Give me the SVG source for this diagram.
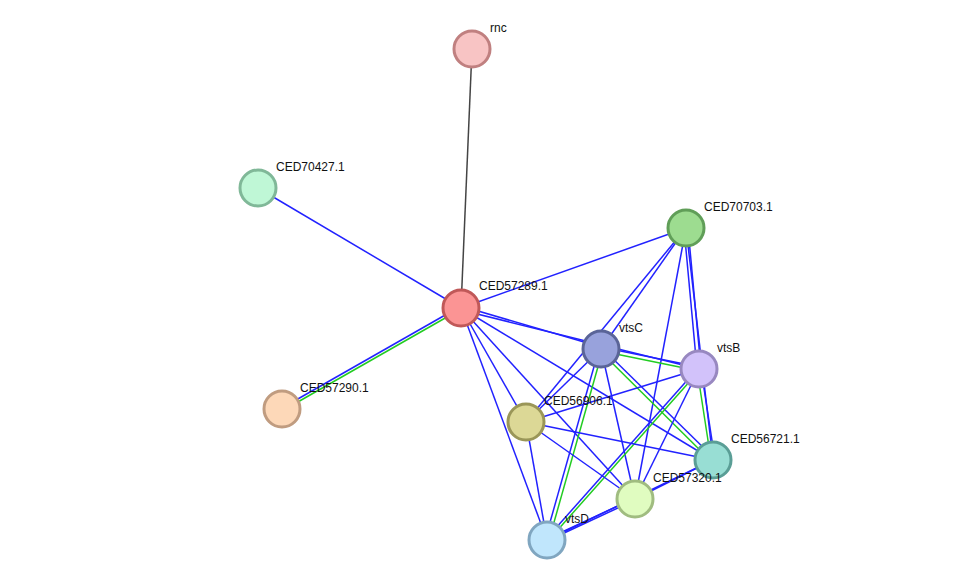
<svg xmlns="http://www.w3.org/2000/svg" width="975" height="585" viewBox="0 0 975 585">
<style>
.b{stroke:#2222ff;stroke-width:1.5;fill:none}
.g{stroke:#22cc22;stroke-width:1.5;fill:none}
.k{stroke:#444;stroke-width:1.5}
circle{stroke-width:3}
text{font-family:"Liberation Sans",Arial,sans-serif;font-size:12px;fill:#111}
</style>
<rect width="975" height="585" fill="#fff"/>
<g id="connectors">
<line class="k" x1="472" y1="49" x2="461" y2="308"/>
<line class="b" x1="258" y1="188" x2="461" y2="308"/>
<line class="b" x1="282" y1="408" x2="461" y2="306"/>
<line class="g" x1="282" y1="411" x2="461" y2="309"/>
<line class="b" x1="461" y1="308" x2="686" y2="228"/>
<line class="b" x1="461" y1="306" x2="601" y2="347"/>
<line class="b" x1="461" y1="310" x2="699" y2="369"/>
<line class="b" x1="461" y1="308" x2="713" y2="460"/>
<line class="b" x1="461" y1="308" x2="635" y2="499"/>
<line class="b" x1="461" y1="308" x2="547" y2="540"/>
<line class="b" x1="461" y1="308" x2="526" y2="422"/>
<line class="b" x1="686" y1="228" x2="601" y2="349"/>
<line class="b" x1="686" y1="228" x2="526" y2="422"/>
<line class="b" x1="684" y1="228" x2="697" y2="369"/>
<line class="b" x1="688" y1="228" x2="701" y2="369"/>
<line class="b" x1="686" y1="228" x2="713" y2="460"/>
<line class="b" x1="686" y1="228" x2="635" y2="499"/>
<line class="b" x1="601" y1="347" x2="699" y2="367"/>
<line class="g" x1="601" y1="351" x2="699" y2="371"/>
<line class="b" x1="603" y1="349" x2="715" y2="459"/>
<line class="g" x1="599" y1="350" x2="711" y2="461"/>
<line class="b" x1="599" y1="349" x2="545" y2="540"/>
<line class="g" x1="603" y1="349" x2="549" y2="540"/>
<line class="b" x1="601" y1="349" x2="635" y2="499"/>
<line class="b" x1="601" y1="349" x2="526" y2="422"/>
<line class="b" x1="699" y1="369" x2="526" y2="422"/>
<line class="b" x1="701" y1="369" x2="715" y2="460"/>
<line class="g" x1="697" y1="369" x2="711" y2="460"/>
<line class="b" x1="699" y1="367" x2="547" y2="538"/>
<line class="g" x1="699" y1="371" x2="547" y2="542"/>
<line class="b" x1="699" y1="369" x2="635" y2="499"/>
<line class="b" x1="526" y1="422" x2="713" y2="460"/>
<line class="b" x1="526" y1="422" x2="635" y2="499"/>
<line class="b" x1="526" y1="422" x2="547" y2="540"/>
<line class="b" x1="547" y1="539" x2="635" y2="498"/>
<line class="b" x1="547" y1="541" x2="635" y2="500"/>
<line class="b" x1="635" y1="499" x2="713" y2="460"/>
<line class="b" x1="547" y1="540" x2="713" y2="460"/>
</g>
<g id="rnc"><circle cx="472" cy="49" r="18" fill="#f8c4c4" stroke="#c08080"/><text x="490" y="32">rnc</text></g>
<g id="CED70427.1"><circle cx="258" cy="188" r="18" fill="#bff7d6" stroke="#80b898"/><text x="276" y="171">CED70427.1</text></g>
<g id="CED70703.1"><circle cx="686" cy="228" r="18" fill="#9ddc90" stroke="#609e58"/><text x="704" y="211">CED70703.1</text></g>
<g id="CED57289.1"><circle cx="461" cy="308" r="18" fill="#fb9494" stroke="#c05858"/><text x="479" y="290">CED57289.1</text></g>
<g id="vtsC"><circle cx="601" cy="349" r="18" fill="#98a2dc" stroke="#5a6498"/><text x="619" y="332">vtsC</text></g>
<g id="vtsB"><circle cx="699" cy="369" r="18" fill="#d2c2fa" stroke="#9888c0"/><text x="717" y="352">vtsB</text></g>
<g id="CED56906.1"><circle cx="526" cy="422" r="18" fill="#dcd896" stroke="#9a9658"/><text x="544" y="405">CED56906.1</text></g>
<g id="CED57290.1"><circle cx="282" cy="409" r="18" fill="#fdd8b8" stroke="#c09c80"/><text x="300" y="392">CED57290.1</text></g>
<g id="CED56721.1"><circle cx="713" cy="460" r="18" fill="#98ded4" stroke="#5a9e96"/><text x="731" y="443">CED56721.1</text></g>
<g id="CED57320.1"><circle cx="635" cy="499" r="18" fill="#e0fcc0" stroke="#a0bc80"/><text x="653" y="482">CED57320.1</text></g>
<g id="vtsD"><circle cx="547" cy="540" r="18" fill="#c0e6fc" stroke="#80a6c0"/><text x="565" y="523">vtsD</text></g>
</svg>
